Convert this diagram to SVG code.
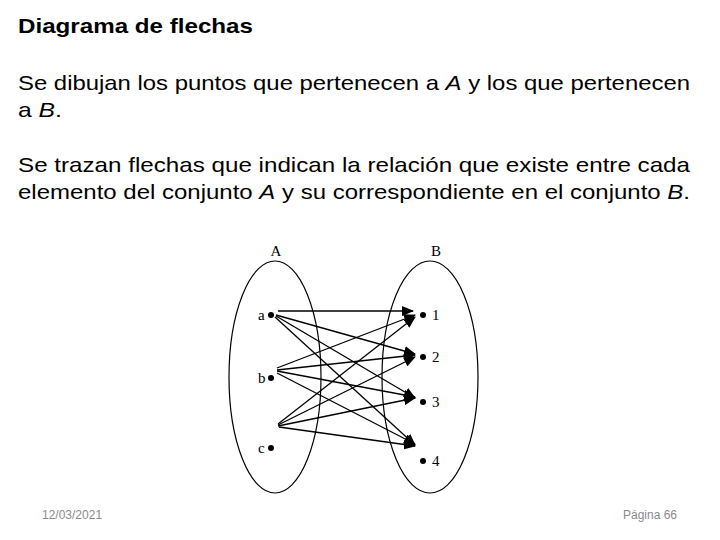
<svg xmlns="http://www.w3.org/2000/svg" width="720" height="540" viewBox="0 0 720 540">
<style>
.h{font-family:"Liberation Sans",Arial,sans-serif;font-size:21px;font-weight:bold;fill:#000}
.t{font-family:"Liberation Sans",Arial,sans-serif;font-size:21px;fill:#000}
.d{font-family:"Liberation Serif",serif;font-size:15px;fill:#000}
.f{font-family:"Liberation Sans",Arial,sans-serif;font-size:12px;fill:#8a8a8a}
.c line{stroke:#000;stroke-width:1.3;marker-end:url(#ar)}
</style>
<defs><marker id="ar" markerWidth="12" markerHeight="10" refX="11" refY="5" orient="auto" markerUnits="userSpaceOnUse"><path d="M0,0 L12,5 L0,10 z" fill="#000"/></marker></defs>
<rect width="720" height="540" fill="#fff"/>
<text class="h" x="18" y="33" textLength="235" lengthAdjust="spacingAndGlyphs">Diagrama de flechas</text>
<text class="t" x="18" y="90" textLength="672" lengthAdjust="spacingAndGlyphs">Se dibujan los puntos que pertenecen a <tspan font-style="italic">A</tspan> y los que pertenecen</text>
<text class="t" x="18" y="117" textLength="44" lengthAdjust="spacingAndGlyphs">a <tspan font-style="italic">B</tspan>.</text>
<text class="t" x="18" y="172" textLength="672" lengthAdjust="spacingAndGlyphs">Se trazan flechas que indican la relación que existe entre cada</text>
<text class="t" x="18" y="199" textLength="672" lengthAdjust="spacingAndGlyphs">elemento del conjunto <tspan font-style="italic">A</tspan> y su correspondiente en el conjunto <tspan font-style="italic">B</tspan>.</text>
<g id="setA"><ellipse cx="275" cy="377" rx="46" ry="116" fill="none" stroke="#000" stroke-width="1.2"/><text class="d" x="276" y="256" text-anchor="middle">A</text></g>
<g id="setB"><ellipse cx="430" cy="377" rx="48" ry="116" fill="none" stroke="#000" stroke-width="1.2"/><text class="d" x="436" y="256" text-anchor="middle">B</text></g>
<g id="a"><circle cx="271" cy="315" r="3"/><text class="d" x="258" y="320">a</text></g>
<g id="b"><circle cx="271" cy="378" r="3"/><text class="d" x="258" y="383">b</text></g>
<g id="c"><circle cx="271" cy="448" r="3"/><text class="d" x="258" y="453">c</text></g>
<g id="n1"><circle cx="423" cy="315" r="3"/><text class="d" x="432" y="320">1</text></g>
<g id="n2"><circle cx="423" cy="357" r="3"/><text class="d" x="432" y="362">2</text></g>
<g id="n3"><circle cx="423" cy="402" r="3"/><text class="d" x="432" y="407">3</text></g>
<g id="n4"><circle cx="423" cy="461" r="3"/><text class="d" x="432" y="466">4</text></g>
<g id="connectors" class="c">
<line x1="278" y1="311" x2="413" y2="311"/>
<line x1="276" y1="315" x2="415" y2="354"/>
<line x1="276" y1="316" x2="415" y2="398"/>
<line x1="275" y1="317" x2="415" y2="445"/>
<line x1="277" y1="368" x2="415" y2="315"/>
<line x1="277" y1="370" x2="415" y2="355"/>
<line x1="277" y1="371" x2="415" y2="397"/>
<line x1="277" y1="373" x2="415" y2="444"/>
<line x1="278" y1="424" x2="415" y2="317"/>
<line x1="278" y1="425" x2="415" y2="357"/>
<line x1="278" y1="426" x2="415" y2="398"/>
<line x1="279" y1="427" x2="415" y2="446"/>
</g>
<text class="f" x="42" y="519">12/03/2021</text>
<text class="f" x="677" y="519" text-anchor="end">Página 66</text>
</svg>
